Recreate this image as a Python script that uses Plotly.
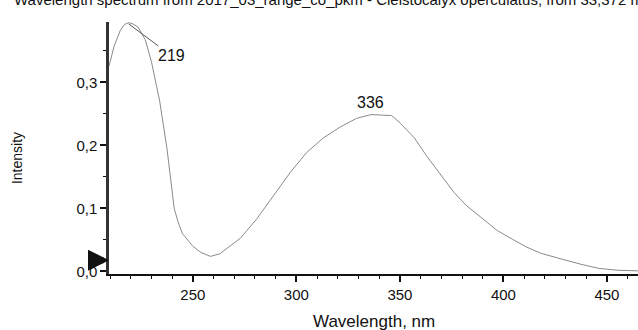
import plotly.graph_objects as go

# Data
wavelength = [209.5, 212, 215, 217, 219, 221, 223.5, 227, 230, 234, 237.5, 241, 243,
              245, 248, 250, 254, 258.5, 263, 268, 273, 281, 289, 297, 305, 313, 321,
              329, 336, 346, 350, 357, 363, 369.5, 376, 382, 389, 397, 405, 411, 418,
              424, 430, 438, 446, 455, 465]
intensity = [0.326, 0.358, 0.383, 0.392, 0.395, 0.393, 0.388, 0.368, 0.333, 0.270, 0.195,
             0.100, 0.077, 0.060, 0.048, 0.040, 0.030, 0.024, 0.028, 0.040, 0.053, 0.084,
             0.120, 0.157, 0.189, 0.212, 0.229, 0.243, 0.249, 0.2475, 0.236, 0.212, 0.183,
             0.155, 0.126, 0.105, 0.086, 0.065, 0.050, 0.039, 0.029, 0.023, 0.018, 0.011,
             0.005, 0.002, 0.001]
peak_labels = ["219", "336"]
peak_x = [219, 336]
peak_y = [0.393, 0.249]
title_text = "Wavelength spectrum from 2017_03_range_co_pkm - Cleistocalyx operculatus, from 33,372 min"

narrow = "Liberation Sans Narrow, Arial Narrow, Liberation Sans, Arial, sans-serif"
regular = "Liberation Sans, Arial, sans-serif"

fig = go.Figure()
fig.add_trace(go.Scatter(x=wavelength, y=intensity, mode="lines",
                         line=dict(color="#8a8a8a", width=1), showlegend=False,
                         hoverinfo="skip"))

fig.update_layout(
    width=638, height=330,
    margin=dict(l=109, r=0, t=22, b=56),
    paper_bgcolor="white", plot_bgcolor="white",
    separators=",.",
    showlegend=False,
)
fig.update_xaxes(range=[209.5, 465], showgrid=False, zeroline=False,
                 showline=True, linecolor="#111", linewidth=2,
                 ticks="outside", ticklen=6, tickwidth=1.5, tickcolor="#111",
                 tickvals=[250, 300, 350, 400, 450],
                 tickfont=dict(family=narrow, size=15, color="#111"),
                 minor=dict(dtick=10, tick0=0, ticks="outside", ticklen=3, tickcolor="#111", tickwidth=1.2))
fig.update_yaxes(range=[-0.004, 0.396], showgrid=False, zeroline=False,
                 showline=True, linecolor="#333", linewidth=2.5,
                 ticks="outside", ticklen=6, tickwidth=1.5, tickcolor="#111",
                 tickvals=[0, 0.1, 0.2, 0.3], tickformat=".1f",
                 tickfont=dict(family=narrow, size=15, color="#111"),
                 minor=dict(dtick=0.05, tick0=0, ticks="outside", ticklen=3, tickcolor="#111", tickwidth=1.2))

# Title (clipped at top, like the reference)
fig.add_annotation(text=title_text, xref="paper", yref="paper",
                   x=-(109 - 12) / 529, y=1 + 23 / 252, xanchor="left", yanchor="middle",
                   showarrow=False, font=dict(family=regular, size=15, color="#111"))
# Axis titles
fig.add_annotation(text="Wavelength, nm", xref="paper", yref="paper",
                   x=0.5, y=-(321 - 274) / 252, xanchor="center", yanchor="middle",
                   showarrow=False, font=dict(family=narrow, size=17, color="#111"))
fig.add_annotation(text="Intensity", xref="paper", yref="paper",
                   x=-(109 - 17) / 529, y=0.46, xanchor="center", yanchor="middle",
                   textangle=-90, showarrow=False, font=dict(family=regular, size=14, color="#111"))
# Peak labels
fig.add_annotation(text=peak_labels[0], x=peak_x[0], y=peak_y[0], ax=43, ay=32,
                   showarrow=True, arrowhead=0, arrowwidth=1, arrowcolor="#555", standoff=0,
                   font=dict(family=narrow, size=16, color="#111"))
fig.add_annotation(text=peak_labels[1], x=peak_x[1], y=peak_y[1], yshift=12,
                   showarrow=False, xanchor="center", yanchor="middle",
                   font=dict(family=narrow, size=16, color="#111"))
# Baseline marker arrow
fig.add_annotation(text="", x=209.5, y=0.018, ax=-15, ay=0, showarrow=True,
                   arrowhead=2, arrowsize=0.7, arrowwidth=6, arrowcolor="#111", standoff=0)

fig.write_html("out.html")
